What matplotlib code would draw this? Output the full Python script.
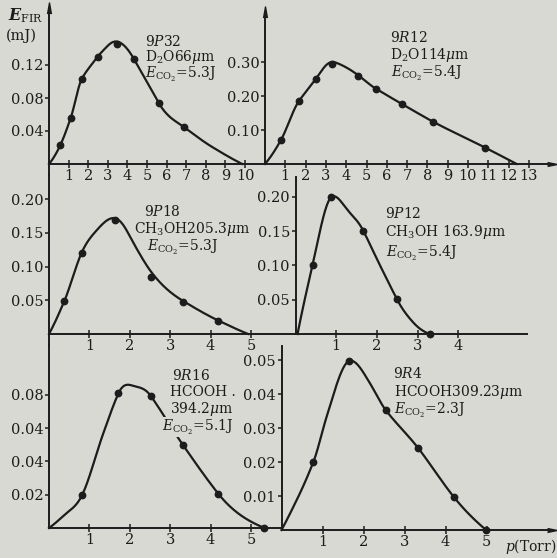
import numpy as np
import matplotlib.pyplot as plt

plt.rcParams["font.family"] = "DejaVu Serif"
plt.rcParams["mathtext.fontset"] = "dejavuserif"

W, H = 557, 558
PAPER = "#d9d9d4"
INK = "#1c1c1c"
FS = 10.5
AFS = 10

# ---- data (x: p in Torr, y: E_FIR in mJ) ----
# 9P32  D2O 66um
p32_x = [0.58, 1.11, 1.67, 2.48, 3.48, 4.34, 5.6, 6.9]
p32_y = [0.023, 0.056, 0.103, 0.130, 0.146, 0.127, 0.074, 0.0445]
p32_cx = [0, 0.58, 1.11, 1.67, 2.09, 2.48, 2.94, 3.4, 4.34, 4.98, 5.6, 6.9, 8.3, 9.4, 9.86]
p32_cy = [0, 0.023, 0.056, 0.103, 0.118, 0.130, 0.142, 0.1485, 0.127, 0.100, 0.074,
          0.0445, 0.021, 0.0057, 0]

# 9R12  D2O 114um
r12_x = [0.79, 1.67, 2.50, 3.30, 4.57, 5.45, 6.76, 8.29, 10.85]
r12_y = [0.071, 0.185, 0.250, 0.293, 0.259, 0.220, 0.176, 0.124, 0.048]
r12_cx = [0, 0.79, 1.67, 2.50, 2.87, 3.45, 4.57, 5.45, 6.76, 8.29, 10.85, 12.4]
r12_cy = [0, 0.071, 0.185, 0.250, 0.281, 0.299, 0.262, 0.222, 0.176, 0.124, 0.048, 0]

# 9P18  CH3OH 205.3um
p18_x = [0.38, 0.81, 1.63, 2.52, 3.32, 4.19]
p18_y = [0.049, 0.121, 0.170, 0.085, 0.048, 0.020]
p18_cx = [0, 0.38, 0.81, 1.18, 1.63, 1.92, 2.09, 2.52, 3.32, 4.19, 4.93]
p18_cy = [0, 0.049, 0.121, 0.154, 0.172, 0.154, 0.135, 0.093, 0.049, 0.020, 0]

# 9P12  CH3OH 163.9um
p12_x = [0.42, 0.87, 1.67, 2.49, 3.30]
p12_y = [0.101, 0.199, 0.150, 0.051, 0.0]
p12_cx = [0.05, 0.42, 0.89, 1.26, 1.67, 2.08, 2.49, 2.89, 3.30]
p12_cy = [0, 0.101, 0.200, 0.182, 0.150, 0.0996, 0.051, 0.017, 0]

# 9R16  HCOOH 394.2um
r16_x = [0.82, 1.72, 2.52, 3.32, 4.19, 5.33]
r16_y = [0.0198, 0.0809, 0.0793, 0.0497, 0.0206, 0.0]
r16_cx = [0, 0.4, 0.82, 1.34, 1.72, 2.1, 2.52, 3.32, 4.19, 5.33]
r16_cy = [0, 0.0082, 0.0198, 0.0566, 0.0809, 0.0853, 0.0793, 0.0497, 0.0206, 0]

# 9R4  HCOOH 309.23um
r4_x = [0.78, 1.65, 2.54, 3.34, 4.21, 4.99]
r4_y = [0.0201, 0.0498, 0.0353, 0.0240, 0.0096, 0.0]
r4_cx = [0, 0.37, 0.78, 1.10, 1.67, 2.16, 2.54, 3.34, 4.21, 4.99]
r4_cy = [0, 0.0088, 0.0201, 0.0333, 0.0498, 0.0431, 0.0353, 0.0240, 0.0096, 0]

# tick labels as printed (the 9R16 panel really reads 0.04 twice)
p32_yt = [0.04, 0.08, 0.12]
p32_yl = ["0.04", "0.08", "0.12"]
r12_yt = [0.10, 0.20, 0.30]
r12_yl = ["0.10", "0.20", "0.30"]
p18_yt = [0.05, 0.10, 0.15, 0.20]
p18_yl = ["0.05", "0.10", "0.15", "0.20"]
r16_yt = [0.02, 0.04, 0.06, 0.08]
r16_yl = ["0.02", "0.04", "0.04", "0.08"]
r4_yt = [0.01, 0.02, 0.03, 0.04, 0.05]
r4_yl = ["0.01", "0.02", "0.03", "0.04", "0.05"]


def smooth(x, y, n=400):
    # Akima spline through the hand-drawn curve points
    x = np.asarray(x, float)
    y = np.asarray(y, float)
    h = np.diff(x)
    m = np.diff(y) / h
    mm = np.concatenate([[3 * m[0] - 2 * m[1], 2 * m[0] - m[1]], m,
                         [2 * m[-1] - m[-2], 3 * m[-1] - 2 * m[-2]]])
    t = np.zeros_like(y)
    for i in range(len(x)):
        w1 = abs(mm[i + 3] - mm[i + 2])
        w2 = abs(mm[i + 1] - mm[i])
        if w1 + w2 < 1e-12:
            t[i] = 0.5 * (mm[i + 1] + mm[i + 2])
        else:
            t[i] = (w1 * mm[i + 1] + w2 * mm[i + 2]) / (w1 + w2)
    xs = np.linspace(x[0], x[-1], n)
    i = np.clip(np.searchsorted(x, xs) - 1, 0, len(h) - 1)
    s = (xs - x[i]) / h[i]
    h00 = 2 * s**3 - 3 * s**2 + 1
    h10 = s**3 - 2 * s**2 + s
    h01 = -2 * s**3 + 3 * s**2
    h11 = s**3 - s**2
    ys = h00 * y[i] + h10 * h[i] * t[i] + h01 * y[i + 1] + h11 * h[i] * t[i + 1]
    return xs, np.maximum(ys, 0)


def panel(box, org, scale):
    # box = (left, top, right, bottom) in pixels, org = pixel of (0, 0), scale = px per unit
    l, t, r, b = box
    ax = fig.add_axes([l / W, 1 - b / H, (r - l) / W, (b - t) / H])
    ax.patch.set_alpha(0)
    ax.set_xlim((l - org[0]) / scale[0], (r - org[0]) / scale[0])
    ax.set_ylim((org[1] - b) / scale[1], (org[1] - t) / scale[1])
    for s in ["top", "right"]:
        ax.spines[s].set_visible(False)
    ax.spines["bottom"].set_position(("data", 0))
    for s in ["left", "bottom"]:
        ax.spines[s].set_color(INK)
        ax.spines[s].set_linewidth(1.4)
    ax.tick_params(axis="x", direction="inout", length=6, width=1.1,
                   pad=0.5, labelsize=FS, colors=INK)
    ax.tick_params(axis="y", direction="out", length=3, width=1.1,
                   pad=1, labelsize=FS, colors=INK)
    return ax


def draw(ax, mx, my, cx, cy, xt, yt, yl):
    sx, sy = smooth(cx, cy)
    ax.plot(sx, sy, color=INK, lw=1.6, clip_on=False, zorder=3)
    ax.plot(mx, my, "o", color=INK, ms=4.6, clip_on=False, zorder=4)
    ax.set_xticks(xt)
    ax.set_xticklabels([str(v) for v in xt])
    ax.set_yticks(yt)
    ax.set_yticklabels(yl)


arrow_up = [(-0.35, -1), (0, 1), (0.35, -1)]
arrow_right = [(-1, -0.4), (1, 0), (-1, 0.4)]


def arrow_y(ax):
    ax.plot(0, 1, marker=arrow_up, ms=8, color=INK, transform=ax.transAxes, clip_on=False)


def arrow_x(ax):
    ax.plot(1, 0, marker=arrow_right, ms=7, color=INK,
            transform=ax.get_yaxis_transform(), clip_on=False)


def label(x, y, s, fs=AFS, **kw):
    fig.text(x / W, 1 - y / H, s, ha="left", va="center", fontsize=fs, color=INK, **kw)


fig = plt.figure(figsize=(W / 100, H / 100), dpi=100)
fig.patch.set_facecolor(PAPER)

ax1 = panel((49, 8, 265, 175), (49, 164), (19.6, 825))
draw(ax1, p32_x, p32_y, p32_cx, p32_cy, range(1, 11), p32_yt, p32_yl)
arrow_y(ax1)

ax2 = panel((265, 12, 552, 164), (265, 164), (20.3, 340))
draw(ax2, r12_x, r12_y, r12_cx, r12_cy, range(1, 14), r12_yt, r12_yl)
arrow_y(ax2)
arrow_x(ax2)

ax3 = panel((49, 175, 295.5, 345), (49, 334), (40.4, 673.5))
draw(ax3, p18_x, p18_y, p18_cx, p18_cy, range(1, 6), p18_yt, p18_yl)

ax4 = panel((295.5, 177, 527, 334), (295.5, 334), (40.7, 686))
draw(ax4, p12_x, p12_y, p12_cx, p12_cy, range(1, 5), p18_yt, p18_yl)

ax5 = panel((49, 345, 281.5, 528), (49, 528), (40.4, 1665))
draw(ax5, r16_x, r16_y, r16_cx, r16_cy, range(1, 6), r16_yt, r16_yl)

ax6 = panel((281.5, 346, 552, 530), (281.5, 530), (41, 3400))
draw(ax6, r4_x, r4_y, r4_cx, r4_cy, range(1, 6), r4_yt, r4_yl)
arrow_x(ax6)

# axis title
label(8, 16, r"$\mathbfit{E}_{\mathrm{FIR}}$", fs=11.5)
label(6, 36, "(mJ)", fs=10.5)
label(505, 546, r"$p$(Torr)", fs=10)

# panel annotations
label(145, 41, r"9$P$32")
label(145, 57, r"D$_2$O66$\mu$m")
label(145, 74, r"$E_{\mathrm{CO_2}}$=5.3J")

label(390, 38, r"9$R$12")
label(390, 55, r"D$_2$O114$\mu$m")
label(391, 73, r"$E_{\mathrm{CO_2}}$=5.4J")

label(144, 211, r"9$P$18")
label(134, 229, r"CH$_3$OH205.3$\mu$m")
label(147, 247, r"$E_{\mathrm{CO_2}}$=5.3J")

label(385, 213, r"9$P$12")
label(385, 232, r"CH$_3$OH 163.9$\mu$m")
label(386, 253, r"$E_{\mathrm{CO_2}}$=5.4J")

label(172, 375, r"9$R$16")
label(170, 392, "HCOOH .")
label(170, 409, r"394.2$\mu$m")
label(162, 427, r"$E_{\mathrm{CO_2}}$=5.1J",
      bbox=dict(boxstyle="square,pad=0.05", fc=PAPER, ec="none"))

label(393, 374, r"9$R$4")
label(394, 392, r"HCOOH309.23$\mu$m")
label(394, 410, r"$E_{\mathrm{CO_2}}$=2.3J")

fig.savefig("out.png", dpi=100, facecolor=PAPER)
